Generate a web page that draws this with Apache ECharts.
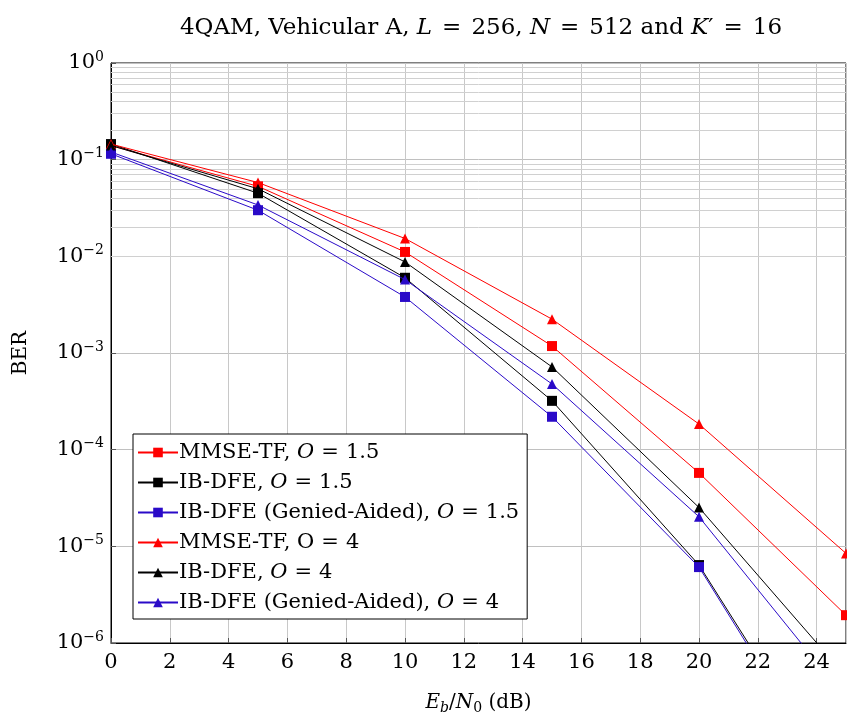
<!DOCTYPE html>
<html>
<head>
<meta charset="utf-8">
<script src="https://cdn.jsdelivr.net/npm/echarts@6/dist/echarts.min.js"></script>
<style>
  html, body { margin: 0; padding: 0; background: #fff; }
  #chart { width: 847px; height: 713px; }
</style>
</head>
<body>
<div id="chart"></div>
<script>
// Eb/N0 points (dB)
const snrDb = [0, 5, 10, 15, 20, 25];

// BER curves, oversampling O = 1.5
const mmseTf15 = [0.14, 0.053, 0.0111, 0.00118, 5.75e-5, 1.94e-6];
const ibDfe15 = [0.145, 0.045, 0.0060, 0.00032, 6.4e-6, 2.5e-8];
const ibDfeGa15 = [0.115, 0.030, 0.0038, 0.000219, 6.1e-6, 2.2e-8];

// BER curves, oversampling O = 4
const mmseTf4 = [0.145, 0.058, 0.0153, 0.00224, 1.84e-4, 8.45e-6];
const ibDfe4 = [0.14, 0.050, 0.00875, 0.000718, 2.52e-5, 4.5e-7];
const ibDfeGa4 = [0.12, 0.034, 0.00575, 0.000478, 2.02e-5, 2.66e-7];

// Minor grid positions of the log axis (2..9 within each decade)
const minorGrid = [];
for (let e = -6; e < 0; e++) {
  for (let m = 2; m <= 9; m++) minorGrid.push(m * Math.pow(10, e));
}

const SERIF = "'DejaVu Serif', 'Liberation Serif', serif";
const RED = '#ff0000', BLACK = '#000000', BLUE = '#2a0ac8';

const legendRich = {
  MMSE15: 'MMSE-TF, {i|O}{eq|=}1.5',
  IB15: 'IB-DFE, {i|O}{eq|=}1.5',
  GA15: 'IB-DFE (Genied-Aided), {i|O}{eq|=}1.5',
  MMSE4: 'MMSE-TF, O{eq|=}4',
  IB4: 'IB-DFE, {i|O}{eq|=}4',
  GA4: 'IB-DFE (Genied-Aided), {i|O}{eq|=}4'
};
const seriesDefs = [
  { key: 'MMSE15', data: mmseTf15, color: RED, symbol: 'rect' },
  { key: 'IB15', data: ibDfe15, color: BLACK, symbol: 'rect' },
  { key: 'GA15', data: ibDfeGa15, color: BLUE, symbol: 'rect' },
  { key: 'MMSE4', data: mmseTf4, color: RED, symbol: 'triangle' },
  { key: 'IB4', data: ibDfe4, color: BLACK, symbol: 'triangle' },
  { key: 'GA4', data: ibDfeGa4, color: BLUE, symbol: 'triangle' }
];

const series = seriesDefs.map((d, idx) => {
  const s = {
    name: d.key,
    type: 'line',
    data: snrDb.map((x, i) => [x, d.data[i]]),
    symbol: d.symbol,
    symbolSize: 10,
    showAllSymbol: true,
    clip: true,
    z: 3 + idx,
    lineStyle: { color: d.color, width: 1 },
    itemStyle: { color: d.color },
    emphasis: { disabled: true },
    animation: false
  };
  if (idx === 0) {
    s.markLine = {
      silent: true,
      symbol: 'none',
      animation: false,
      z: 1,
      label: { show: false },
      lineStyle: { color: '#d0d0d0', width: 1, type: 'solid' },
      data: minorGrid.map(v => ({ yAxis: v }))
    };
  }
  return s;
});

const chart = echarts.init(document.getElementById('chart'), null, { renderer: 'canvas' });
chart.setOption({
  animation: false,
  backgroundColor: '#fff',
  title: {
    text: '4QAM, Vehicular A, {i|L}{eq|=}256, {i|N}{eq|=}512 and {i|K}′{eq|=}16',
    left: 476,
    textAlign: 'center',
    top: 12,
    textStyle: {
      fontFamily: SERIF, fontSize: 23, fontWeight: 'normal', color: '#000',
      rich: {
        i: { fontFamily: SERIF, fontSize: 23, fontStyle: 'italic', color: '#000' },
        eq: { fontFamily: SERIF, fontSize: 23, color: '#000', padding: [0, 10, 0, 10] }
      }
    }
  },
  grid: {
    left: 111, right: 1, top: 63, bottom: 70,
    containLabel: false,
    outerBoundsMode: 'none',
    show: true, borderColor: '#000', borderWidth: 1, backgroundColor: 'transparent'
  },
  legend: {
    orient: 'vertical',
    left: 133, top: 434,
    padding: [8, 8, 6, 4],
    itemGap: 9,
    itemWidth: 40,
    itemHeight: 12,
    backgroundColor: '#fff',
    borderColor: '#000',
    borderWidth: 1,
    borderRadius: 0,
    selectedMode: false,
    data: seriesDefs.map(d => d.key),
    formatter: name => legendRich[name],
    textStyle: {
      fontFamily: SERIF, fontSize: 21, color: '#000', padding: [0, 0, 0, -4],
      rich: {
        i: { fontFamily: SERIF, fontSize: 21, fontStyle: 'italic', color: '#000' },
        eq: { fontFamily: SERIF, fontSize: 21, color: '#000', padding: [0, 7, 0, 7] }
      }
    }
  },
  xAxis: {
    type: 'value',
    min: 0, max: 25, interval: 2,
    name: '{i|E}{si|b}/{i|N}{sub|0} (dB)',
    nameLocation: 'middle',
    nameGap: 48,
    nameTextStyle: {
      fontFamily: SERIF, fontSize: 20, color: '#000',
      rich: {
        i: { fontFamily: SERIF, fontSize: 20, fontStyle: 'italic', color: '#000' },
        si: { fontFamily: SERIF, fontSize: 14, fontStyle: 'italic', color: '#000', verticalAlign: 'bottom', padding: [10, 0, 0, 0] },
        sub: { fontFamily: SERIF, fontSize: 14, color: '#000', verticalAlign: 'bottom', padding: [10, 0, 0, 0] }
      }
    },
    axisLine: { show: true, lineStyle: { color: '#000', width: 1 } },
    axisTick: { show: true, inside: true, length: 5, lineStyle: { color: '#555' } },
    axisLabel: {
      fontFamily: SERIF, fontSize: 21, color: '#000', margin: 9,
      showMaxLabel: false
    },
    splitLine: { show: true, lineStyle: { color: '#c8c8c8', width: 1 } }
  },
  yAxis: {
    type: 'log',
    logBase: 10,
    min: 1e-6, max: 1,
    name: 'BER',
    nameLocation: 'middle',
    nameGap: 80,
    nameRotate: 90,
    nameTextStyle: { fontFamily: SERIF, fontSize: 20, color: '#000' },
    axisLine: { show: true, lineStyle: { color: '#000', width: 1 } },
    axisTick: { show: true, inside: true, length: 5, lineStyle: { color: '#555' } },
    axisLabel: {
      margin: 7,
      formatter: v => {
        const e = Math.round(Math.log10(v));
        return '10{sup|' + (e < 0 ? '−' + (-e) : e) + '}';
      },
      fontFamily: SERIF, fontSize: 21, color: '#000',
      rich: {
        sup: { fontFamily: SERIF, fontSize: 14, color: '#000', verticalAlign: 'top', padding: [0, 0, 12, 0] }
      }
    },
    splitLine: { show: true, lineStyle: { color: '#c0c0c0', width: 1 } }
  },
  series: series
});
</script>
</body>
</html>
